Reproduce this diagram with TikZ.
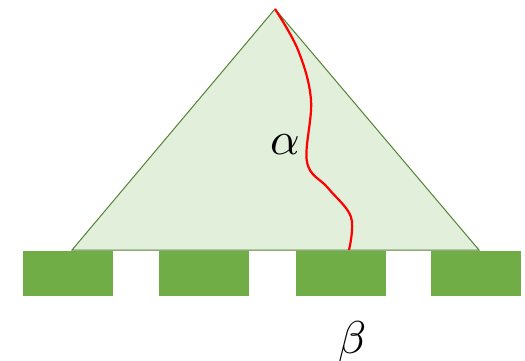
\documentclass[tikz,border=0pt]{standalone}
\usepackage{tikz}
\begin{document}
\begin{tikzpicture}[x=1pt,y=-1pt,
  tri/.style={draw={rgb,255:red,84;green,130;blue,53},fill={rgb,255:red,226;green,239;blue,218},line width=1pt,line join=miter},
  pad/.style={fill={rgb,255:red,112;green,173;blue,71}},
  path/.style={draw=red,line width=2.2pt},
  lbl/.style={scale=4.6,inner sep=0pt}]
\useasboundingbox (0,0) rectangle (525,361);
\draw[tri] (275,9) -- (479,250) -- (72,250) -- cycle;
\fill[pad] (23,251) rectangle (113,296);
\fill[pad] (159,251) rectangle (249,296);
\fill[pad] (296,251) rectangle (386,296);
\fill[pad] (431,251) rectangle (521,296);
\draw[path] plot[smooth,tension=0.6] coordinates {(275,9) (298,50) (311,100) (307,162) (328,188) (351,217) (349,250)};
\node[lbl] (a) at (285,145) {$\alpha$};
\node[lbl] (b) at (352,342) {$\beta$};
\end{tikzpicture}
\end{document}
